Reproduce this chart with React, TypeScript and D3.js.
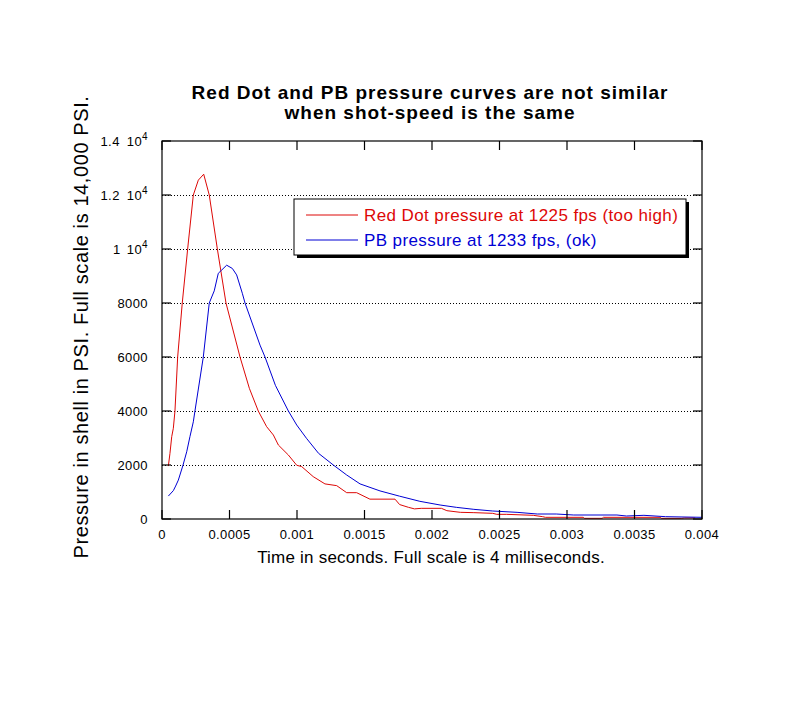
import React from "react";
import * as d3 from "d3";

// Time in seconds, pressure in PSI
const redTime = [
  0.000047, 0.000059, 0.000072, 0.000084, 0.000096, 0.000116, 0.00015, 0.00019, 0.000232,
  0.000269, 0.000309, 0.00035, 0.00041, 0.000474, 0.000578, 0.000647, 0.000713, 0.000775,
  0.000825, 0.000862, 0.000936, 0.000998, 0.001035, 0.00112, 0.001207, 0.001294, 0.001368,
  0.001442, 0.00154, 0.001726, 0.00176, 0.001825, 0.00187, 0.00192, 0.00207, 0.00211,
  0.00221, 0.00231, 0.00245, 0.00248, 0.00255, 0.00275, 0.00282, 0.00284, 0.00312,
  0.00313, 0.00326, 0.00327, 0.00369, 0.0037, 0.00385, 0.00387, 0.00395,
];
const redPressure = [
  1960, 2430, 3050, 3360, 4000, 6000, 8000, 10000, 12000,
  12550, 12770, 12000, 10000, 8000, 6000, 4840, 4000, 3420,
  3110, 2740, 2370, 1990, 1940, 1570, 1300, 1235, 975,
  975, 735, 735, 535, 433, 375, 395, 395, 308,
  247, 235, 210, 173, 173, 136, 86, 62, 62,
  25, 25, 62, 62, 25, 25, 40, 40,
];

const blueTime = [
  0.000047, 0.000084, 0.000101, 0.000121, 0.000156, 0.000183, 0.000207, 0.000232, 0.000244,
  0.000306, 0.00035, 0.000387, 0.000417, 0.000442, 0.000479, 0.000521, 0.000553, 0.000595,
  0.000615, 0.000726, 0.000763, 0.00084, 0.000936, 0.000998, 0.00107, 0.00116, 0.001269,
  0.001368, 0.001467, 0.001615, 0.00176, 0.00191, 0.00206, 0.00218, 0.00231, 0.00245,
  0.00263, 0.00278, 0.00292, 0.00305, 0.00337, 0.00344, 0.00357, 0.00373, 0.004,
];
const bluePressure = [
  850, 1050, 1220, 1440, 2000, 2490, 3050, 3600, 4000,
  6000, 8000, 8450, 9100, 9220, 9400, 9280, 9040, 8360,
  8000, 6440, 6000, 4950, 4000, 3480, 2990, 2430, 2000,
  1630, 1300, 1040, 845, 655, 518, 432, 358, 296,
  247, 185, 185, 148, 148, 111, 136, 86, 62,
];

const xTicks = [0, 0.0005, 0.001, 0.0015, 0.002, 0.0025, 0.003, 0.0035, 0.004];
const xTickLabels = ["0", "0.0005", "0.001", "0.0015", "0.002", "0.0025", "0.003", "0.0035", "0.004"];
const yTicks = [0, 2000, 4000, 6000, 8000, 10000, 12000, 14000];
const yTickMantissa = ["0", "2000", "4000", "6000", "8000", "1", "1.2", "1.4"];
const yTickExponent = ["", "", "", "", "", "4", "4", "4"];

const titleLines = ["Red Dot and PB pressure curves are not similar", "when shot-speed is the same"];
const xLabel = "Time in seconds. Full scale is 4 milliseconds.";
const yLabel = "Pressure in shell in PSI. Full scale is 14,000 PSI.";
const legendLabels = ["Red Dot pressure at 1225 fps (too high)", "PB pressure at 1233 fps, (ok)"];

const RED = "#DD0806";
const BLUE = "#0000D4";
const FONT = "'Liberation Sans', Arial, Helvetica, sans-serif";

export default function App() {
  const W = 810, H = 702;
  const m = { left: 162, right: 108, top: 141, bottom: 183 };
  const x = d3.scaleLinear().domain([0, 0.004]).range([m.left, W - m.right]);
  const y = d3.scaleLinear().domain([0, 14000]).range([H - m.bottom, m.top]);
  const line = d3
    .line<[number, number]>()
    .x((d) => x(d[0]))
    .y((d) => y(d[1]));
  const red: [number, number][] = redTime.map((t, i) => [t, redPressure[i]]);
  const blue: [number, number][] = blueTime.map((t, i) => [t, bluePressure[i]]);
  const x0 = x(0), x1 = x(0.004), y0 = y(0), y1 = y(14000);
  const tick = 9;

  const lg = { x: 294, y: 199, w: 392, h: 56 };

  return (
    <svg
      width={W}
      height={H}
      style={{ position: "absolute", left: 0, top: 0, background: "#fff" }}
      fontFamily={FONT}
    >
      <rect x={0} y={0} width={W} height={H} fill="#fff" />
      {/* title */}
      {titleLines.map((t, i) => (
        <text
          key={i}
          x={430}
          y={99 + i * 20}
          textAnchor="middle"
          fontSize={19}
          fontWeight="bold"
          letterSpacing={1.0}
        >
          {t}
        </text>
      ))}
      {/* grid */}
      {yTicks.slice(1, -1).map((v) => (
        <line
          key={"g" + v}
          x1={x0}
          x2={x1}
          y1={y(v) + 0.5}
          y2={y(v) + 0.5}
          stroke="#000"
          strokeWidth={1}
          strokeDasharray="1,2"
        />
      ))}
      {/* curves */}
      <path d={line(red) || ""} fill="none" stroke={RED} strokeWidth={1} />
      <path d={line(blue) || ""} fill="none" stroke={BLUE} strokeWidth={1} />
      {/* frame */}
      <rect x={x0} y={y1} width={x1 - x0} height={y0 - y1} fill="none" stroke="#000" strokeWidth={1.2} />
      {/* x ticks */}
      {xTicks.map((v, i) => (
        <g key={"x" + v}>
          <line x1={x(v)} x2={x(v)} y1={y0} y2={y0 - tick} stroke="#000" strokeWidth={1.2} />
          <line x1={x(v)} x2={x(v)} y1={y1} y2={y1 + tick} stroke="#000" strokeWidth={1.2} />
          <text x={x(v)} y={y0 + 20} textAnchor="middle" fontSize={13} letterSpacing={0.4}>
            {xTickLabels[i]}
          </text>
        </g>
      ))}
      {/* y ticks */}
      {yTicks.map((v, i) => (
        <g key={"y" + v}>
          <line x1={x0} x2={x0 + tick} y1={y(v)} y2={y(v)} stroke="#000" strokeWidth={1.2} />
          <line x1={x1} x2={x1 - tick} y1={y(v)} y2={y(v)} stroke="#000" strokeWidth={1.2} />
          <text x={148} y={y(v) + 5} textAnchor="end" fontSize={13} letterSpacing={0.4}>
            {yTickMantissa[i]}
            {yTickExponent[i] ? (
              <>
                <tspan dx={7}>10</tspan>
                <tspan fontSize={10} dy={-6}>
                  {yTickExponent[i]}
                </tspan>
              </>
            ) : null}
          </text>
        </g>
      ))}
      {/* axis labels */}
      <text x={431} y={563} textAnchor="middle" fontSize={17} letterSpacing={0.22}>
        {xLabel}
      </text>
      <text
        transform={`translate(88,327) rotate(-90)`}
        textAnchor="middle"
        fontSize={20}
        letterSpacing={0.6}
      >
        {yLabel}
      </text>
      {/* legend */}
      <rect x={lg.x + 3} y={lg.y + 3} width={lg.w} height={lg.h} fill="#000" />
      <rect x={lg.x} y={lg.y} width={lg.w} height={lg.h} fill="#fff" stroke="#000" strokeWidth={1} />
      <line x1={306} x2={358} y1={215} y2={215} stroke={RED} strokeWidth={1} />
      <line x1={306} x2={358} y1={240} y2={240} stroke={BLUE} strokeWidth={1} />
      <text x={364} y={221} fontSize={17} fill={RED} letterSpacing={0.4}>
        {legendLabels[0]}
      </text>
      <text x={364} y={246} fontSize={17} fill={BLUE} letterSpacing={0.4}>
        {legendLabels[1]}
      </text>
    </svg>
  );
}
